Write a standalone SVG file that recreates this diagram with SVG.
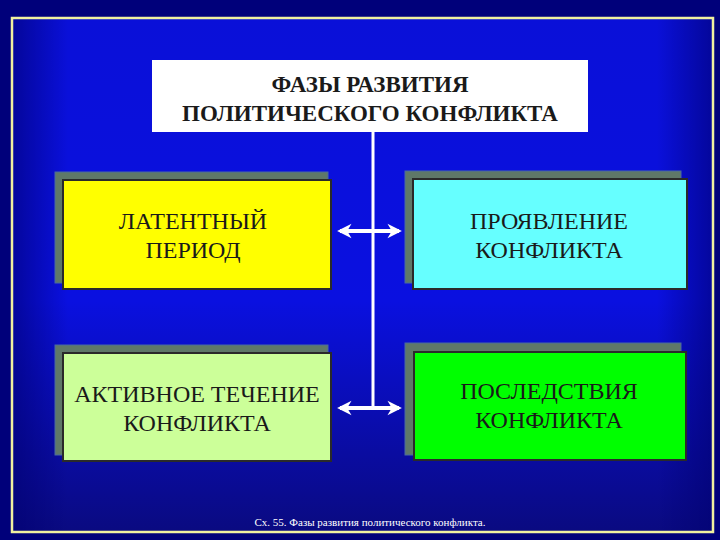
<svg xmlns="http://www.w3.org/2000/svg" width="720" height="540" viewBox="0 0 720 540">
<defs>
<linearGradient id="bgv" x1="0" y1="0" x2="0" y2="1">
<stop offset="0" stop-color="#0a10d8"/>
<stop offset="0.55" stop-color="#0a10e0"/>
<stop offset="1" stop-color="#0a0a80"/>
</linearGradient>
<linearGradient id="bgh" x1="0" y1="0" x2="1" y2="0">
<stop offset="0" stop-color="#000070" stop-opacity="0.6"/>
<stop offset="0.08" stop-color="#000070" stop-opacity="0"/>
<stop offset="0.92" stop-color="#000070" stop-opacity="0"/>
<stop offset="1" stop-color="#000070" stop-opacity="0.6"/>
</linearGradient>
<marker id="ah" viewBox="0 0 10 10" refX="8" refY="5" markerWidth="3.6" markerHeight="4.4" orient="auto-start-reverse" markerUnits="strokeWidth">
<path d="M0,0 L10,5 L0,10 L3,5 Z" fill="#ffffff"/>
</marker>
<style>
.shadow{fill:#5f7868;stroke:#4a6aa0;stroke-width:1}
.front{stroke:#2a2a2a;stroke-width:2}
text{font-family:'Liberation Serif', 'DejaVu Serif', serif;text-anchor:middle}
.lbl{font-size:24px;fill:#1a1a1a}
.ttl{font-size:23px;font-weight:bold;fill:#1a1a1a}
.cap{font-size:11px;fill:#ffffff}
</style>
</defs>
<rect x="0" y="0" width="720" height="540" fill="#00007a"/>
<rect x="12" y="18" width="701" height="514" fill="url(#bgv)"/>
<rect x="12" y="18" width="701" height="514" fill="url(#bgh)"/>
<rect x="12" y="18" width="701" height="514" fill="none" stroke="#f0f0a0" stroke-width="2.5"/>

<g id="title">
<rect x="152" y="60" width="436" height="72" fill="#ffffff"/>
<text class="ttl" x="370" y="92">ФАЗЫ РАЗВИТИЯ</text>
<text class="ttl" x="370" y="121">ПОЛИТИЧЕСКОГО КОНФЛИКТА</text>
</g>

<g id="connectors" stroke="#ffffff" fill="none">
<line x1="373" y1="132" x2="373" y2="408" stroke-width="3"/>
<line x1="340" y1="231" x2="399" y2="231" stroke-width="4" marker-start="url(#ah)" marker-end="url(#ah)"/>
<line x1="340" y1="408" x2="399" y2="408" stroke-width="4" marker-start="url(#ah)" marker-end="url(#ah)"/>
</g>

<g id="latent">
<rect class="shadow" x="55" y="172" width="273" height="111"/>
<rect class="front" x="63" y="180" width="268" height="109" fill="#ffff00"/>
<text class="lbl" x="193" y="229">ЛАТЕНТНЫЙ</text>
<text class="lbl" x="193" y="258">ПЕРИОД</text>
</g>

<g id="manifest">
<rect class="shadow" x="405" y="171" width="276" height="112"/>
<rect class="front" x="413" y="179" width="274" height="110" fill="#66ffff"/>
<text class="lbl" x="549" y="229">ПРОЯВЛЕНИЕ</text>
<text class="lbl" x="549" y="258">КОНФЛИКТА</text>
</g>

<g id="active">
<rect class="shadow" x="55" y="345" width="273" height="110"/>
<rect class="front" x="63" y="353" width="268" height="108" fill="#ccff99"/>
<text class="lbl" x="197" y="402">АКТИВНОЕ ТЕЧЕНИЕ</text>
<text class="lbl" x="197" y="431">КОНФЛИКТА</text>
</g>

<g id="consequences">
<rect class="shadow" x="405" y="343" width="276" height="112"/>
<rect class="front" x="414" y="352" width="272" height="108" fill="#00ff00"/>
<text class="lbl" x="549" y="399">ПОСЛЕДСТВИЯ</text>
<text class="lbl" x="549" y="428">КОНФЛИКТА</text>
</g>

<text class="cap" x="370" y="526">Сх. 55. Фазы развития политического конфликта.</text>
</svg>
